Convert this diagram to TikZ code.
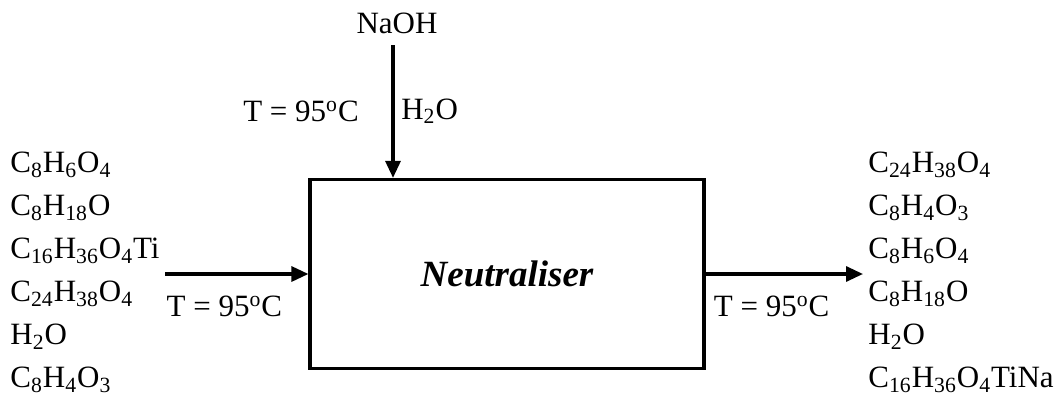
\documentclass[tikz,border=0pt]{standalone}
\usepackage{fontspec}
\setmainfont{Liberation Serif}
\usetikzlibrary{positioning, arrows.meta}

\newcommand{\tsub}[1]{\textsubscript{#1}}
\newcommand{\degC}{\textsuperscript{o}C}

\begin{document}
\begin{tikzpicture}[
		x=0.5pt, y=-0.5pt,
		font=\fontsize{15.5}{21.5}\selectfont,
		unit/.style={draw, line width=1.6pt, minimum width=197pt, minimum height=94.5pt,
			font=\fontsize{18.5}{22}\selectfont\bfseries\itshape},
		species/.style={align=left, anchor=north west, inner sep=0pt},
		stream/.style={line width=1.6pt, -{Triangle[length=8.5pt, width=7.5pt]}}
		]
		
		\useasboundingbox (0,0) rectangle (1060,412);
		
		% --- Neutraliser unit ---
		\node[unit] (neut) at (507,274) {Neutraliser};
		
		% --- Stream ends ---
		\coordinate (feed) at (165,274);
		\coordinate (prod) at (863,274);
		\coordinate (base) at (393,45);
		\node (naoh) [above=2pt of base, xshift=2pt] {NaOH};
		
		% Feed, product and NaOH streams
		\draw[stream] (feed) -- (neut.west)
			node[pos=0, anchor=north west, xshift=-3.3pt, yshift=-7pt] {T = 95\degC};
		\draw[stream] (neut.east) -- (prod)
			node[pos=0, anchor=north west, yshift=-7pt] {T = 95\degC};
		\draw[stream] (base) -- (base |- neut.north)
			node[midway, left=13pt] {T = 95\degC}
			node[midway, right=0pt] {H\tsub{2}O};
		
		% --- Species lists ---
		\node[species] (feedlist) at (10,152) {C\tsub{8}H\tsub{6}O\tsub{4}\\
			C\tsub{8}H\tsub{18}O\\
			C\tsub{16}H\tsub{36}O\tsub{4}Ti\\
			C\tsub{24}H\tsub{38}O\tsub{4}\\
			H\tsub{2}O\\
			C\tsub{8}H\tsub{4}O\tsub{3}};
		\node[species] (prodlist) at (868,152) {C\tsub{24}H\tsub{38}O\tsub{4}\\
			C\tsub{8}H\tsub{4}O\tsub{3}\\
			C\tsub{8}H\tsub{6}O\tsub{4}\\
			C\tsub{8}H\tsub{18}O\\
			H\tsub{2}O\\
			C\tsub{16}H\tsub{36}O\tsub{4}TiNa};
		
	\end{tikzpicture}
\end{document}
